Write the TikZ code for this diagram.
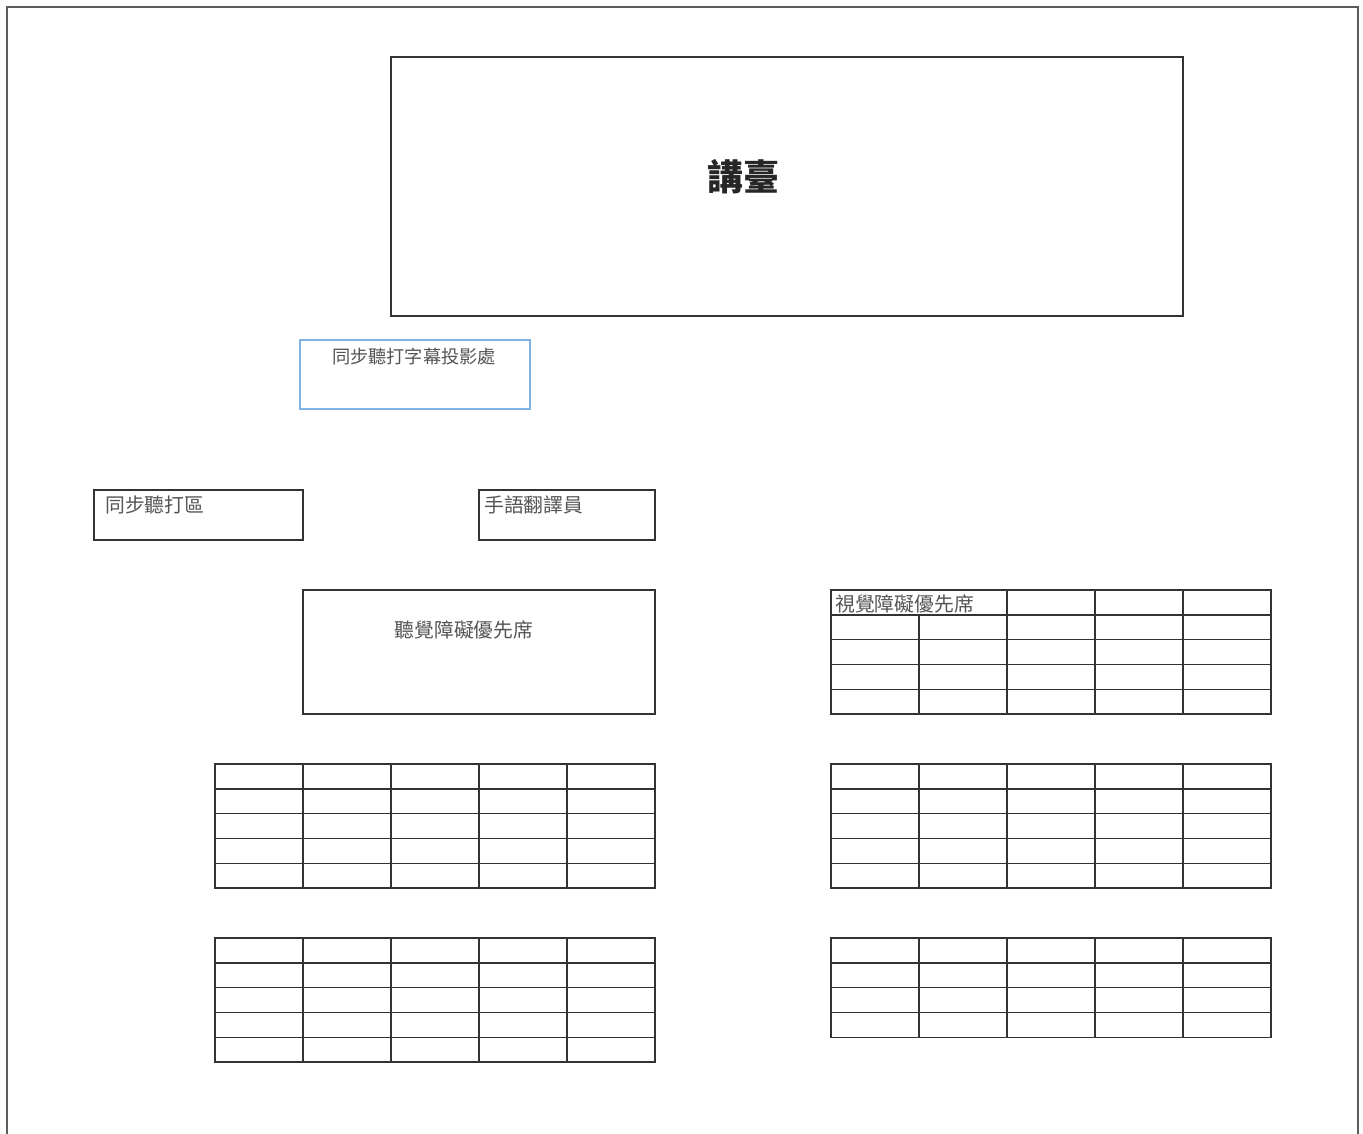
\documentclass[tikz,border=0pt]{standalone}
\usepackage{fontspec}
\newfontfamily\cjk{Noto Sans CJK TC}
\definecolor{linegray}{HTML}{333333}
\definecolor{textgray}{HTML}{555555}
\definecolor{boxblue}{HTML}{7FB2E5}
\tikzset{
  box/.style={draw=linegray, line width=1.4pt, inner sep=0pt},
  lbl/.style={font=\cjk\fontsize{19.8}{20}\selectfont, text=textgray, inner sep=0pt},
  grid/.style={draw=linegray, line width=1.4pt, line cap=rect},
}
\newcommand{\seatgrid}[5]{% x0,y0,cols,rows,name
  \foreach \c in {0,...,#3}{\draw[grid] ({#1+88*\c},#2) -- ({#1+88*\c},{#2+24.8*#4});}
  \foreach \r in {0,...,#4}{\draw[grid] (#1,{#2+24.8*\r}) -- ({#1+88*#3},{#2+24.8*\r});}
}
\begin{document}
\begin{tikzpicture}[x=1pt,y=-1pt]
\useasboundingbox (0,0) rectangle (1363,1133);
\fill[white] (0,0) rectangle (1363,1133);
% outer frame
\draw[draw=linegray!80, line width=1.6pt] (7,1140) -- (7,7) -- (1358,7) -- (1358,1140);
% stage
\node[box, minimum width=792pt, minimum height=259pt] (stage) at (787,186.5) {};
\node[font=\cjk\bfseries\fontsize{36}{36}\selectfont, text=black!85] (stagelbl) at (743,177) {講臺};
% projection
\node[draw=boxblue, line width=1.6pt, minimum width=230pt, minimum height=69pt, inner sep=0pt] (proj) at (415,374.5) {};
\node[lbl, font=\cjk\fontsize{18.2}{18}\selectfont] (projlbl) at (414,357) {同步聽打字幕投影處};
% caption area
\node[box, minimum width=209pt, minimum height=50pt] (cap) at (198.5,515) {};
\node[lbl, anchor=west] (caplbl) at (105,505) {同步聽打區};
% sign language
\node[box, minimum width=176pt, minimum height=50pt] (sign) at (567,515) {};
\node[lbl, anchor=west] (signlbl) at (484,505) {手語翻譯員};
% hearing priority
\node[box, minimum width=352pt, minimum height=124pt] (hear) at (479,652) {};
\node[lbl] (hearlbl) at (464,630) {聽覺障礙優先席};
% visual priority table
\draw[grid] (831,590) rectangle (1271,714);
\foreach \c in {2,3,4}{\draw[grid] ({831+88*\c},590) -- ({831+88*\c},714);}
\draw[grid] (919,615) -- (919,714);
\foreach \r in {1,2,3,4}{\draw[grid] (831,{590+24.8*\r}) -- (1271,{590+24.8*\r});}
\node[lbl, anchor=west] (vislbl) at (835,604) {視覺障礙優先席};
% seat grids
\seatgrid{215}{764}{5}{5}{a}
\seatgrid{831}{764}{5}{5}{b}
\seatgrid{215}{938}{5}{5}{c}
\seatgrid{831}{938}{5}{4}{d}
\end{tikzpicture}
\end{document}
